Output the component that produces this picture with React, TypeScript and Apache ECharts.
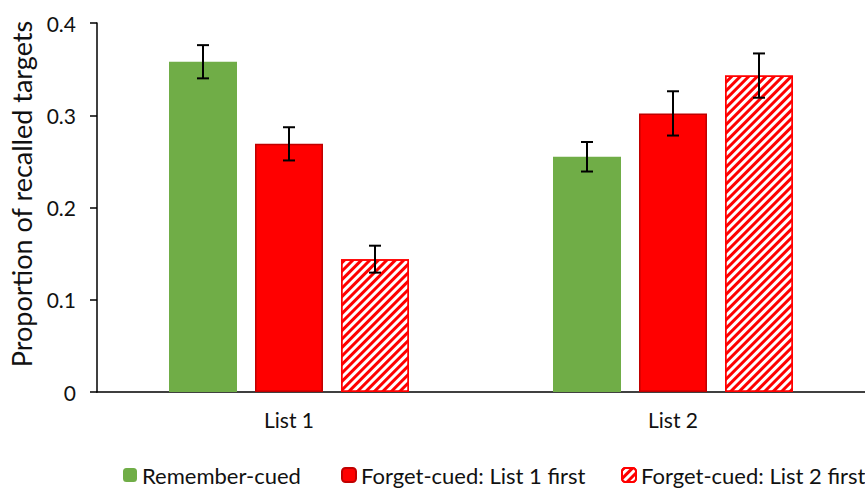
import React, { useEffect, useRef } from "react";
import * as echarts from "echarts";

const categories = ["List 1", "List 2"];
const seriesNames = ["Remember-cued", "Forget-cued: List 1 first", "Forget-cued: List 2 first"];
const rememberCued = [0.358, 0.255];
const rememberErr = [0.018, 0.016];
const forgetList1First = [0.269, 0.302];
const forgetList1Err = [0.018, 0.024];
const forgetList2First = [0.144, 0.343];
const forgetList2Err = [0.0146, 0.024];
const yTicks = [0, 0.1, 0.2, 0.3, 0.4];
const yTitle = "Proportion of recalled targets";

const FONT = "Lato";
const BAR_W = 68;
const BAR_GAP_PX = 18;

export default function App() {
  const ref = useRef<HTMLDivElement>(null);
  useEffect(() => {
    if (!ref.current) return;
    const chart = echarts.init(ref.current, undefined, { renderer: "svg" });
    const values = [rememberCued, forgetList1First, forgetList2First];
    const errs = [rememberErr, forgetList1Err, forgetList2Err];
    const styles: any[] = [
      { color: "#70AD47" },
      { color: "#FF0000", borderColor: "#C00000", borderWidth: 1.5 },
      {
        color: "#FFFFFF",
        borderColor: "#FF0000",
        borderWidth: 1.5,
        decal: {
          symbol: "rect",
          color: "#FF0000",
          dashArrayX: [1, 0],
          dashArrayY: [3, 3],
          rotation: -Math.PI / 4,
          symbolSize: 1,
        },
      },
    ];
    const barSeries = seriesNames.map((name, i) => ({
      name,
      type: "bar",
      data: values[i],
      barWidth: BAR_W,
      barGap: (BAR_GAP_PX / BAR_W) * 100 + "%",
      itemStyle: styles[i],
      z: 2,
    }));
    const errSeries = seriesNames.map((name, i) => ({
      type: "custom",
      name: name + " err",
      z: 5,
      silent: true,
      data: categories.map((_, k) => [k, values[i][k] - errs[i][k], values[i][k] + errs[i][k]]),
      encode: { x: 0, y: [1, 2] },
      renderItem: (params: any, api: any) => {
        const x = api.value(0);
        const lo = api.coord([x, api.value(1)]);
        const hi = api.coord([x, api.value(2)]);
        const cx = lo[0] + (i - 1) * (BAR_W + BAR_GAP_PX);
        const cap = 6;
        const st = { stroke: "#000", lineWidth: 2 };
        return {
          type: "group",
          children: [
            { type: "line", shape: { x1: cx, y1: lo[1], x2: cx, y2: hi[1] }, style: st },
            { type: "line", shape: { x1: cx - cap, y1: lo[1], x2: cx + cap, y2: lo[1] }, style: st },
            { type: "line", shape: { x1: cx - cap, y1: hi[1], x2: cx + cap, y2: hi[1] }, style: st },
          ],
        };
      },
    }));
    const legendLefts = [123, 341, 621];
    chart.setOption({
      animation: false,
      backgroundColor: "#fff",
      textStyle: { fontFamily: FONT },
      grid: { left: 97, top: 23, width: 773, height: 369, containLabel: false },
      graphic: [
        {
          type: "text",
          x: 21,
          y: 194,
          rotation: Math.PI / 2,
          style: {
            text: yTitle,
            fontFamily: FONT,
            fontSize: 27,
            fill: "#111",
            textAlign: "center",
            textVerticalAlign: "middle",
          },
        },
      ],
      legend: seriesNames.map((n, i) => ({
        data: [n],
        left: legendLefts[i],
        top: 464,
        itemWidth: 14,
        itemHeight: 14,
        itemGap: 0,
        padding: 0,
        textStyle: { fontFamily: FONT, fontSize: 22, color: "#111" },
      })),
      xAxis: {
        type: "category",
        data: categories,
        axisLine: { lineStyle: { color: "#000", width: 1.5 } },
        axisTick: { show: false },
        axisLabel: { fontFamily: FONT, fontSize: 21, color: "#111", margin: 17 },
      },
      yAxis: {
        type: "value",
        min: yTicks[0],
        max: yTicks[yTicks.length - 1],
        interval: 0.1,
        axisLine: { show: true, lineStyle: { color: "#000", width: 1.5 } },
        axisTick: { show: true, length: 7, lineStyle: { color: "#000", width: 1.5 } },
        splitLine: { show: false },
        axisLabel: { fontFamily: FONT, fontSize: 21, color: "#111", margin: 21 },
      },
      series: [...barSeries, ...errSeries],
    });
    return () => chart.dispose();
  }, []);
  return (
    <div
      ref={ref}
      style={{ position: "fixed", left: 0, top: 0, width: 865, height: 491 }}
    />
  );
}
